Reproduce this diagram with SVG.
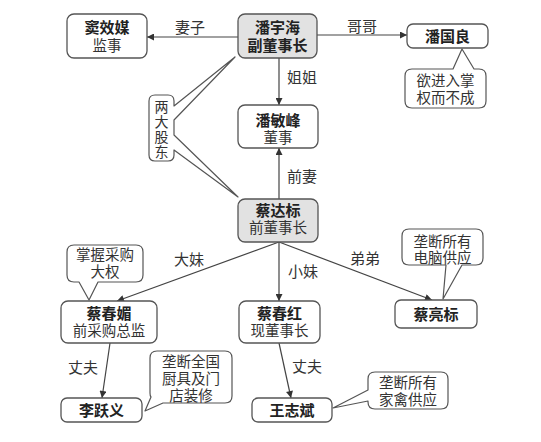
<svg xmlns="http://www.w3.org/2000/svg" width="541" height="442" viewBox="0 0 541 442">
<style>
.box{fill:#fff;stroke:#555;stroke-width:1.3}
.gray{fill:#e2e2e2}
.co{fill:#fff;stroke:#555;stroke-width:1.2;stroke-linejoin:round}
.edge{stroke:#444;stroke-width:1.2;fill:none}
.nt{font-family:"Noto Sans CJK SC","Noto Sans",sans-serif;font-size:15px;font-weight:bold;fill:#222;text-anchor:middle}
.nt .r{font-weight:normal;fill:#333;font-size:14.5px}
.ct{font-family:"Noto Sans CJK SC","Noto Sans",sans-serif;font-size:14.5px;fill:#333;text-anchor:middle}
.vt{font-family:"Noto Sans CJK SC","Noto Sans",sans-serif;font-size:14px;fill:#333;writing-mode:vertical-rl;letter-spacing:1px}
.lt{font-family:"Noto Sans CJK SC","Noto Sans",sans-serif;font-size:15px;fill:#333;text-anchor:middle}
</style>
<defs>
<marker id="arr" viewBox="0 0 10 10" refX="10" refY="5" markerWidth="9" markerHeight="7" markerUnits="userSpaceOnUse" orient="auto">
<path d="M0,0 L10,5 L0,10 Z" fill="#333"/>
</marker>
</defs>
<rect width="541" height="442" fill="#fff"/>
<g id="connectors">
<line class="edge" x1="238" y1="37" x2="147" y2="37" marker-end="url(#arr)"/>
<line class="edge" x1="317" y1="35" x2="407" y2="35" marker-end="url(#arr)"/>
<line class="edge" x1="279" y1="58" x2="279" y2="105" marker-end="url(#arr)"/>
<line class="edge" x1="279" y1="199" x2="279" y2="148" marker-end="url(#arr)"/>
<line class="edge" x1="279" y1="242" x2="117" y2="301" marker-end="url(#arr)"/>
<line class="edge" x1="279" y1="242" x2="279" y2="301" marker-end="url(#arr)"/>
<line class="edge" x1="279" y1="242" x2="432" y2="300" marker-end="url(#arr)"/>
<line class="edge" x1="110" y1="343" x2="102" y2="398" marker-end="url(#arr)"/>
<line class="edge" x1="279" y1="343" x2="291" y2="398" marker-end="url(#arr)"/>
<text class="lt" x="190" y="33">妻子</text>
<text class="lt" x="362" y="32">哥哥</text>
<text class="lt" x="302" y="83">姐姐</text>
<text class="lt" x="302" y="182">前妻</text>
<text class="lt" x="189" y="265">大妹</text>
<text class="lt" x="303" y="277">小妹</text>
<text class="lt" x="365" y="264">弟弟</text>
<text class="lt" x="83" y="373">丈夫</text>
<text class="lt" x="307" y="372">丈夫</text>
</g>
<g id="n-douxiaomei">
<rect class="box" x="67" y="14" width="80" height="44" rx="7"/>
<text class="nt" x="107" y="33">窦效媒<tspan class="r" x="107" dy="18">监事</tspan></text>
</g>
<g id="n-panyuhai">
<rect class="box gray" x="238" y="14" width="79" height="44" rx="7"/>
<text class="nt" x="277.5" y="33">潘宇海<tspan x="277.5" dy="18">副董事长</tspan></text>
</g>
<g id="n-panguoliang">
<rect class="box" x="407" y="24" width="81" height="24" rx="6"/>
<text class="nt" x="447.5" y="41.5">潘国良</text>
</g>
<g id="c-panguoliang">
<path class="co" d="M412,69 L453,69 L462,49 L474,69 L479,69 Q486,69 486,76 L486,101 Q486,108 479,108 L412,108 Q405,108 405,101 L405,76 Q405,69 412,69 Z"/>
<text class="ct" x="445.5" y="85.5">欲进入掌<tspan x="445.5" dy="17.5">权而不成</tspan></text>
</g>
<g id="c-gudong">
<path class="co" d="M155,95 L168,95 Q174,95 174,101 L174,106 L235,57 L174,120 L174,135 L238,197 L174,150 L174,155 Q174,161 168,161 L155,161 Q149,161 149,155 L149,101 Q149,95 155,95 Z"/>
<text class="vt" x="161.5" y="100">两大股东</text>
</g>
<g id="n-panminfeng">
<rect class="box" x="238" y="105" width="80" height="43" rx="7"/>
<text class="nt" x="278" y="125.5">潘敏峰<tspan class="r" x="278" dy="17">董事</tspan></text>
</g>
<g id="n-caidabiao">
<rect class="box gray" x="238" y="199" width="80" height="43" rx="7"/>
<text class="nt" x="278" y="215.5">蔡达标<tspan class="r" x="278" dy="17">前董事长</tspan></text>
</g>
<g id="c-caichunmei">
<path class="co" d="M74,245 L136,245 Q143,245 143,252 L143,275 Q143,282 136,282 L98,282 L89,300 L79,282 L74,282 Q67,282 67,275 L67,252 Q67,245 74,245 Z"/>
<text class="ct" x="105" y="259.5">掌握采购<tspan x="105" dy="17.5">大权</tspan></text>
</g>
<g id="n-caichunmei">
<rect class="box" x="61" y="301" width="96" height="42" rx="7"/>
<text class="nt" x="109" y="318.5">蔡春媚<tspan class="r" x="109" dy="17">前采购总监</tspan></text>
</g>
<g id="n-caichunhong">
<rect class="box" x="239" y="301" width="81" height="42" rx="7"/>
<text class="nt" x="279.5" y="318.5">蔡春红<tspan class="r" x="279.5" dy="17">现董事长</tspan></text>
</g>
<g id="c-cailiangbiao">
<path class="co" d="M409,229 L476,229 Q483,229 483,236 L483,258 Q483,265 476,265 L462,265 L443,299 L446,265 L409,265 Q402,265 402,258 L402,236 Q402,229 409,229 Z"/>
<text class="ct" x="442.5" y="247">垄断所有<tspan x="442.5" dy="16">电脑供应</tspan></text>
</g>
<g id="n-cailiangbiao">
<rect class="box" x="395" y="300" width="82" height="28" rx="6"/>
<text class="nt" x="436" y="319.5">蔡亮标</text>
</g>
<g id="n-liyueyi">
<rect class="box" x="61" y="398" width="81" height="24" rx="6"/>
<text class="nt" x="101.5" y="415.5">李跃义</text>
</g>
<g id="c-liyueyi">
<path class="co" d="M157,351 L225,351 Q232,351 232,358 L232,396 Q232,403 225,403 L163,403 L145,411 L151,397 Q150,396 150,393 L150,358 Q150,351 157,351 Z"/>
<text class="ct" x="191" y="367">垄断全国<tspan x="191" dy="17">厨具及门</tspan><tspan x="191" dy="16.5">店装修</tspan></text>
</g>
<g id="n-wangzhibin">
<rect class="box" x="252" y="398" width="80" height="24" rx="6"/>
<text class="nt" x="292" y="415.5">王志斌</text>
</g>
<g id="c-wangzhibin">
<path class="co" d="M375,372 L441,372 Q448,372 448,379 L448,402 Q448,409 441,409 L375,409 Q368,409 368,402 L368,401 L333,408 L368,390 L368,379 Q368,372 375,372 Z"/>
<text class="ct" x="408" y="387.5">垄断所有<tspan x="408" dy="17">家禽供应</tspan></text>
</g>
</svg>
